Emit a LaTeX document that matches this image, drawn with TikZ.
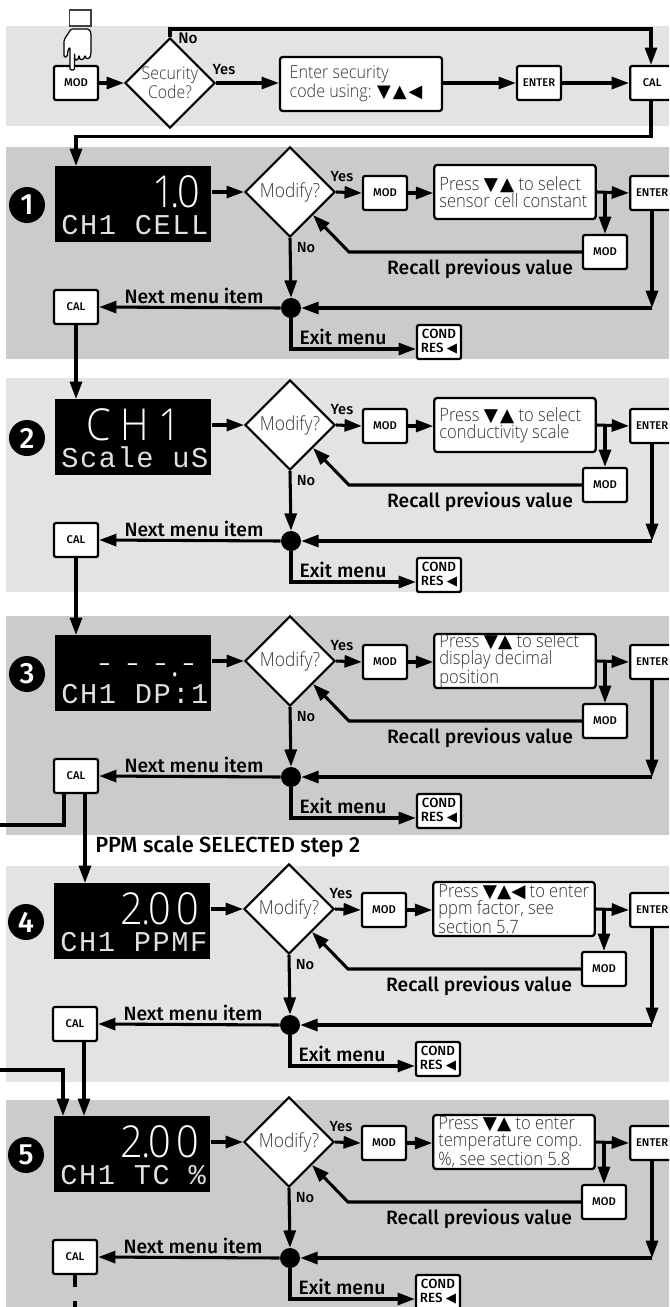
\documentclass[tikz,border=0pt]{standalone}
\usepackage{fontspec}
\usetikzlibrary{arrows.meta,shapes.geometric,calc}
\setmainfont{Fira Sans}
\newfontfamily\lightf[FakeStretch=0.9]{Open Sans Light}
\newfontfamily\labelf{Fira Sans}[BoldFont={Fira Sans Medium}]
\newfontfamily\symf{DejaVu Sans}
\newfontfamily\lcdsmall[LetterSpace=5.5]{Liberation Mono}
\definecolor{bandlight}{gray}{0.89}
\definecolor{banddark}{gray}{0.795}
\definecolor{txtlight}{gray}{0.2}
\newcommand\dn{{\symf\color{black}▼}}
\newcommand\up{{\symf\color{black}▲}}
\newcommand\lf{{\symf\color{black}◀}}
\newcommand\bc[1]{\makebox[21pt][c]{#1}}
\newcommand\bcr[1]{\makebox[21pt][r]{#1}}
\newcommand\zd{\makebox[0pt]{.}}
\tikzset{
  wire/.style={line width=2.3pt},
  arr/.style={wire,-{Triangle[length=13pt,width=9pt]}},
  key/.style={draw,line width=1.7pt,fill=white,rounded corners=1.5pt,minimum width=33pt,minimum height=25.5pt,inner sep=0pt,font=\labelf\bfseries\fontsize{8.4}{8.4}\selectfont,align=center},
  condkey/.style={key,font=\labelf\bfseries\fontsize{10}{10.5}\selectfont},
  msg/.style={draw,line width=1.7pt,fill=white,rounded corners=2pt,minimum width=121pt,minimum height=40.5pt,inner sep=0pt,text width=113.5pt,align=flush left,text=txtlight,font=\lightf\fontsize{13.8}{13}\selectfont},
  decide/.style={diamond,draw,line width=1.6pt,fill=white,minimum width=67.5pt,minimum height=67.5pt,inner sep=0pt,aspect=1,text=txtlight,font=\lightf\fontsize{14.5}{12.8}\selectfont,align=center},
  lcd/.style={fill=black,anchor=north west,minimum width=117pt,minimum height=57pt,inner sep=0pt},
  bigtxt/.style={text=white,anchor=base east,inner sep=0pt,font=\lightf\fontsize{33}{33}\selectfont},
  smalltxt/.style={text=white!88!black,anchor=base west,inner sep=0pt,font=\lcdsmall\fontsize{21.5}{21.5}\selectfont},
  numdot/.style={circle,fill=black,text=white,minimum size=27pt,inner sep=0pt,font=\labelf\bfseries\fontsize{22}{22}\selectfont},
  joint/.style={circle,fill=black,minimum size=15pt,inner sep=0pt},
  lab/.style={inner sep=0pt,font=\labelf\bfseries\fontsize{14.5}{14.5}\selectfont},
  slab/.style={inner sep=0pt,font=\labelf\bfseries\fontsize{11}{11}\selectfont},
}
% #1 id, #2 dx, #3 dy, #4 number, #5 big text, #6 small text, #7 message
\newcommand\stage[7]{%
  \node[lcd] (disp#1) at ({55+#2},{166+#3}) {};
  \node[bigtxt] (big#1) at ({203+#2},{207+#3}) {#5};
  \node[smalltxt] (small#1) at ({61+#2},{234+#3}) {#6};
  \node[numdot] (num#1) at ({27+#2},{205+#3}) {#4};
  \node[decide] (dec#1) at ({290+#2},{192+#3}) {Modify?};
  \node[key] (moda#1) at ({385+#2},{193+#3}) {MOD};
  \node[msg] (msg#1) at ({515+#2},{192+#3}) {#7};
  \node[key,anchor=west] (ent#1) at (629,{193+#3}) {ENTER};
  \node[key] (modb#1) at ({605+#2},{252+#3}) {MOD};
  \node[key] (cal#1) at ({76+#2},{307+#3}) {CAL};
  \node[joint] (dot#1) at ({291+#2},{308+#3}) {};
  \node[condkey] (cond#1) at ({439+#2},{342+#3}) {COND\\RES \lf};
  \coordinate (bend#1) at ({349+#2},{252+#3});
  \coordinate (corner#1) at ({652},{308+#3});
  \coordinate (branch#1) at ({605+#2},{192+#3});
  \coordinate (exit#1) at ({291+#2},{349+#3});
  \draw[arr] (disp#1.east |- dec#1.west) -- (dec#1.west);
  \draw[arr] (dec#1.east) -- (moda#1.west);
  \draw[arr] (moda#1.east) -- (msg#1.west |- moda#1.east);
  \draw[arr] (msg#1.east) -- (ent#1.west);
  \draw[arr] (branch#1) -- (modb#1.north);
  \draw[arr] (modb#1.west) -- (bend#1) -- (dec#1.south east);
  \draw[arr] (dec#1.south) -- (dot#1.north);
  \draw[arr] (ent#1.south -| corner#1) -- (corner#1);
  \draw[arr] (corner#1) -- (dot#1.east);
  \draw[arr] (dot#1.west) -- (cal#1.east);
  \draw[arr] (dot#1.south) -- (exit#1) -- ([yshift=-5.25pt]cond#1.west);
  \node[slab] (yes#1) at ({342+#2},{177+#3}) {Yes};
  \node[slab] (no#1) at ({306+#2},{248+#3}) {No};
  \node[lab] (next#1) at ({194+#2},{296+#3}) {Next menu item};
  \node[lab] (exitlab#1) at ({343+#2},{337+#3}) {Exit menu};
  \node[lab] (recall#1) at ({480+#2},{269+#3}) {Recall previous value};
}
\begin{document}
\begin{tikzpicture}[x=0.75pt,y=-0.75pt]
\useasboundingbox (0,0) rectangle (669,1307);
\clip (0,0) rectangle (669,1307);
% bands
\fill[bandlight] (6,26) rectangle (669,126);
\fill[banddark] (6,147) rectangle (669,359);
\fill[bandlight] (6,378) rectangle (669,592);
\fill[banddark] (6,616) rectangle (669,835);
\fill[bandlight] (6,866) rectangle (669,1082);
\fill[banddark] (6,1100) rectangle (669,1307);
% top row
\node[key] (mod0) at (76,83) {MOD};
\node[decide,font=\lightf\fontsize{13.2}{12.8}\selectfont] (sec0) at (170,83) {Security\\Code?};
\node[msg,minimum width=121.5pt,text width=107pt,font=\lightf\fontsize{13.4}{13}\selectfont] (code0) at (361,84) {Enter security\\code using: \dn\kern1.5pt\up\kern1.5pt\lf};
\node[key] (ent0) at (539,83) {ENTER};
\node[key,anchor=west] (cal0) at (629,83) {CAL};
\coordinate (nob) at (170,29);
\coordinate (noc) at (651,29);
\coordinate (cald) at (651,136.5);
\coordinate (cale) at (76,136.5);
\draw[arr] (mod0.east) -- (sec0.west);
\draw[arr] (sec0.east) -- (code0.west |- sec0.east);
\draw[arr] (code0.east |- ent0.west) -- (ent0.west);
\draw[arr] (ent0.east) -- (cal0.west);
\draw[arr] (sec0.north) -- (nob) -- (noc) -- (cal0.north -| noc);
\node[slab] (yes0) at (224,70) {Yes};
\node[slab,font=\labelf\bfseries\fontsize{11.5}{11.5}\selectfont] (no0) at (188,38) {No};
% hand
\draw[line width=0.8pt,draw=black!75,fill=white] (69.5,10) rectangle (91,26);
\draw[line width=0.9pt,fill=white,rounded corners=1pt]
  (71,29) -- (89,29) -- (91,33) -- (91,53) -- (90,58) -- (86,59) -- (85,55) -- (84,59) -- (80,60) -- (79,55) -- (78,60) -- (75,60) -- (74.5,53)
  -- (74.5,70) -- (70,70) -- (70,47) -- (68,50) -- (67,57) -- (64,57) -- (64,40) -- cycle;
% stages
\stage{1}{0}{0}{1}{\bcr{1}\zd\bc{0}}{CH1 CELL}{Press \dn\kern1.5pt\up\ to select\\sensor cell constant}
\stage{2}{0}{233}{2}{\makebox[28pt]{C}\makebox[26pt]{H}\makebox[26pt]{1}\kern12pt}{Scale uS}{Press \dn\kern1.5pt\up\ to select\\conductivity scale}
\stage{3}{0}{469}{3}{\bc{-}\bc{-}\bc{-}\zd\bc{-}}{CH1 DP:1}{\fontsize{13.8}{12.4}\selectfont Press \dn\up\ to select\\display decimal\\position}
\stage{4}{-1}{717}{4}{\bc{2}\zd\bc{0}\bc{0}}{CH1 PPMF}{\fontsize{13.8}{12.4}\selectfont Press \dn\up\lf\ to enter\\ppm factor, see\\section 5.7}
\stage{5}{-1}{950}{5}{\bc{2}\zd\bc{0}\bc{0}}{CH1 TC~\%}{\fontsize{13.8}{12.4}\selectfont Press \dn\up\ to enter\\temperature comp.\\\%, see section 5.8}
% links between stages
\draw[arr] (cal0.south -| noc) -- (cald) -- (cale) -- (cale |- disp1.north);
\draw[arr] (cal1.south) -- (cal1.south |- disp2.north);
\draw[arr] (cal2.south) -- (cal2.south |- disp3.north);
\coordinate (ta) at (85,800);
\coordinate (lb) at (64,825);
\coordinate (lc) at (0,825);
\coordinate (ld) at (0,1070);
\coordinate (le) at (63,1070);
\coordinate (tb) at (84,1070);
\draw[wire] (cal3.south -| lb) -- (lb) -- (lc);
\draw[arr] (cal3.south -| ta) -- (ta |- disp4.north);
\draw[arr] (ld) -- (le) -- (le |- disp5.north);
\draw[arr] (cal4.south -| tb) -- (tb |- disp5.north);
\node[lab,anchor=west,font=\labelf\bfseries\fontsize{16.4}{16.4}\selectfont] (ppm) at (95,847) {PPM scale SELECTED step 2};
\coordinate (da) at (75,1287);
\coordinate (db) at (75,1301);
\coordinate (dc) at (75,1307);
\draw[wire] (cal5.south) -- (da);
\draw[wire] (db) -- (dc);
\end{tikzpicture}
\end{document}
